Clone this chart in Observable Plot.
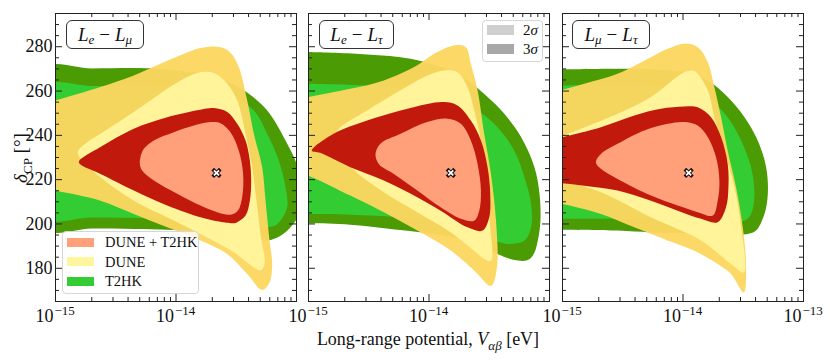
<!DOCTYPE html>
<html><head><meta charset="utf-8">
<script src="https://cdn.jsdelivr.net/npm/d3@7"></script>
<script src="https://cdn.jsdelivr.net/npm/@observablehq/plot@0.6"></script>
<style>
body{margin:0;background:#fff;}
#wrap{position:relative;width:830px;height:360px;font-family:"Liberation Serif",serif;color:#111;overflow:hidden;}
#wrap svg{position:absolute;left:0;top:0;}
.plabel{position:absolute;top:20px;height:29px;box-sizing:border-box;border:1px solid #333;border-radius:6px;background:#fff;font-size:19px;display:flex;align-items:center;justify-content:center;white-space:nowrap;}
.sb{font-size:13px;position:relative;top:5px;}
.mn{margin:0 5px;}
.legend{position:absolute;box-sizing:border-box;border:1px solid #d6d6d6;border-radius:4px;background:rgba(255,255,255,0.8);}
.sw{position:absolute;left:4px;width:27px;height:9px;}
.lt{position:absolute;font-size:14.5px;line-height:16px;white-space:nowrap;}
#xtitle{position:absolute;left:428px;top:329px;transform:translateX(-50%);font-size:18px;white-space:nowrap;}
#ytitle{position:absolute;left:21px;top:158px;transform:translate(-50%,-50%) rotate(-90deg);font-size:19px;white-space:nowrap;}
</style></head>
<body><div id="wrap"></div>
<script>
// Contours: [log10(V / eV), deltaCP in degrees]
// ---- Panel L_e - L_mu ----
const t2hk3_emu = [[-15.1,270.1],[-14.7,270.2],[-14.156,270.1],[-13.797,267.8],[-13.575,264.0],[-13.437,260.3],[-13.243,251.2],[-13.077,236.2],[-13.0,227.1],[-12.97,216.6],[-12.98,204.5],[-13.05,198.5],[-13.133,194.7],[-13.243,192.5],[-13.382,193.7],[-13.52,195.5],[-13.797,196.7],[-14.073,197.4],[-14.35,197.7],[-14.7,197.9],[-15.1,198.0]];
const t2hk2_emu = [[-15.1,262.0],[-14.7,262.3],[-14.35,262.5],[-13.797,261.0],[-13.52,256.5],[-13.354,251.2],[-13.243,240.7],[-13.147,228.6],[-13.091,216.6],[-13.077,207.5],[-13.133,201.5],[-13.2,198.8],[-13.52,200.8],[-14.073,202.3],[-14.7,202.9],[-15.1,203.0]];
const dune3_emu = [[-15.1,254.1],[-15.0,255.7],[-14.627,261.8],[-14.35,267.0],[-14.129,272.3],[-13.963,276.1],[-13.797,279.4],[-13.631,279.8],[-13.548,277.3],[-13.479,270.8],[-13.409,255.7],[-13.354,240.7],[-13.285,225.6],[-13.257,210.5],[-13.23,195.5],[-13.202,180.4],[-13.23,172.9],[-13.285,170.2],[-13.409,177.4],[-13.575,186.4],[-13.797,192.5],[-14.073,198.5],[-14.35,204.5],[-14.627,210.5],[-15.0,215.1],[-15.1,216.3]];
const dune2_emu = [[-14.815,232.4],[-14.737,236.9],[-14.627,240.7],[-14.35,250.5],[-14.073,261.0],[-13.907,266.3],[-13.797,268.5],[-13.686,268.1],[-13.575,263.3],[-13.492,255.7],[-13.423,240.7],[-13.368,225.6],[-13.332,210.5],[-13.299,195.5],[-13.265,181.9],[-13.299,179.0],[-13.354,180.4],[-13.52,187.2],[-13.797,195.5],[-14.073,203.0],[-14.35,210.5],[-14.627,221.1],[-14.779,228.6]];
const comb3_emu = [[-14.806,228.2],[-14.627,234.7],[-14.35,243.0],[-14.073,248.2],[-13.797,251.6],[-13.686,252.3],[-13.575,250.5],[-13.492,245.2],[-13.423,237.7],[-13.387,228.6],[-13.376,219.6],[-13.387,210.5],[-13.423,203.8],[-13.492,200.8],[-13.52,200.3],[-13.658,201.2],[-13.797,203.0],[-14.073,208.3],[-14.35,215.1],[-14.627,222.6],[-14.793,226.8]];
const comb2_emu = [[-14.295,230.1],[-14.267,233.9],[-14.184,237.7],[-14.018,241.4],[-13.852,244.4],[-13.714,246.0],[-13.631,245.5],[-13.548,241.4],[-13.479,233.1],[-13.443,222.6],[-13.451,212.1],[-13.487,206.0],[-13.548,204.2],[-13.658,205.3],[-13.797,208.3],[-13.99,213.6],[-14.184,219.6],[-14.281,224.1],[-14.3,227.1]];
const best_emu = [-13.664, 223.05];

// ---- Panel L_e - L_tau ----
const t2hk3_etau = [[-15.1,277.6],[-15.0,277.6],[-14.514,276.5],[-14.153,274.6],[-13.903,270.8],[-13.681,264.8],[-13.514,257.3],[-13.375,249.7],[-13.236,239.2],[-13.125,225.6],[-13.083,213.6],[-13.075,201.5],[-13.097,192.5],[-13.13,186.5],[-13.18,183.7],[-13.292,183.7],[-13.431,186.4],[-13.569,190.2],[-13.736,193.2],[-13.958,195.5],[-14.236,197.3],[-14.653,199.7],[-15.0,200.3],[-15.1,200.3]];
const t2hk2_etau = [[-15.1,263.3],[-15.0,263.3],[-14.514,262.5],[-14.097,261.0],[-13.819,257.3],[-13.597,251.2],[-13.431,243.7],[-13.292,233.1],[-13.208,221.1],[-13.153,209.0],[-13.153,198.5],[-13.208,192.5],[-13.347,191.0],[-13.458,192.5],[-13.681,197.0],[-13.958,200.8],[-14.236,203.0],[-14.653,204.2],[-15.0,204.5],[-15.1,204.5]];
const dune3_etau = [[-15.1,256.2],[-15.0,257.3],[-14.653,261.0],[-14.375,264.8],[-14.097,271.6],[-13.958,276.8],[-13.792,280.6],[-13.694,279.8],[-13.653,272.3],[-13.597,260.3],[-13.542,240.7],[-13.486,222.6],[-13.444,201.5],[-13.436,180.4],[-13.486,172.1],[-13.625,179.0],[-13.819,188.0],[-14.097,197.0],[-14.375,205.3],[-14.653,212.8],[-15.0,221.8],[-15.1,223.5]];
const dune2_etau = [[-14.75,242.9],[-14.514,251.2],[-14.236,260.3],[-14.014,267.0],[-13.875,269.3],[-13.764,268.5],[-13.681,261.8],[-13.625,251.2],[-13.569,237.7],[-13.528,221.1],[-13.5,203.0],[-13.486,183.4],[-13.542,184.2],[-13.625,187.9],[-13.819,196.2],[-14.097,205.3],[-14.375,214.3],[-14.653,226.0],[-14.792,238.5]];
const comb3_etau = [[-14.972,233.1],[-14.792,240.7],[-14.514,246.7],[-14.236,251.2],[-14.014,254.2],[-13.875,255.0],[-13.764,253.5],[-13.653,246.7],[-13.569,237.7],[-13.514,225.6],[-13.492,213.6],[-13.5,203.0],[-13.556,197.0],[-13.681,198.5],[-13.903,206.0],[-14.097,212.1],[-14.375,219.6],[-14.653,225.6],[-14.903,232.1]];
const comb2_etau = [[-14.444,231.6],[-14.403,236.2],[-14.236,240.7],[-14.014,246.0],[-13.847,247.5],[-13.736,245.2],[-13.653,237.7],[-13.597,227.1],[-13.569,215.1],[-13.583,206.0],[-13.625,201.5],[-13.736,202.3],[-13.903,207.5],[-14.097,215.1],[-14.292,222.6],[-14.417,227.1]];
const best_etau = [-13.819, 223.05];

// ---- Panel L_mu - L_tau ----
const t2hk3_mutau = [[-15.1,269.8],[-15.0,269.8],[-14.543,270.1],[-14.266,269.8],[-13.989,268.5],[-13.795,264.8],[-13.629,257.3],[-13.49,248.2],[-13.38,237.7],[-13.31,225.6],[-13.296,213.6],[-13.324,204.5],[-13.393,197.0],[-13.463,195.5],[-13.712,195.5],[-13.989,195.8],[-14.266,196.2],[-14.543,197.0],[-15.0,197.4],[-15.1,197.4]];
const t2hk2_mutau = [[-15.1,262.5],[-15.0,262.5],[-14.543,263.3],[-14.127,262.5],[-13.906,260.3],[-13.767,255.7],[-13.629,248.2],[-13.518,237.7],[-13.435,225.6],[-13.407,213.6],[-13.435,204.5],[-13.49,201.5],[-13.712,202.3],[-14.266,202.3],[-15.0,202.3],[-15.1,202.3]];
const dune3_mutau = [[-15.1,259.0],[-15.0,260.6],[-14.82,263.3],[-14.543,267.8],[-14.266,275.3],[-14.127,279.1],[-13.989,281.4],[-13.878,279.8],[-13.795,273.1],[-13.74,261.8],[-13.684,248.2],[-13.629,233.1],[-13.56,216.6],[-13.504,198.5],[-13.476,180.4],[-13.496,169.1],[-13.601,177.4],[-13.712,181.9],[-13.906,187.9],[-14.127,192.5],[-14.404,198.5],[-14.681,204.5],[-15.0,209.0],[-15.1,210.0]];
const dune2_mutau = [[-15.1,238.5],[-15.0,239.9],[-14.543,249.7],[-14.266,257.3],[-13.989,268.5],[-13.906,269.0],[-13.795,260.3],[-13.74,248.2],[-13.657,233.1],[-13.573,216.6],[-13.518,198.5],[-13.496,178.2],[-13.601,181.9],[-13.85,192.5],[-14.266,203.0],[-14.681,214.3],[-15.0,219.6],[-15.1,220.5]];
const comb3_mutau = [[-15.1,238.0],[-15.0,239.2],[-14.681,243.7],[-14.404,249.0],[-14.183,252.0],[-13.989,253.0],[-13.878,252.7],[-13.767,248.2],[-13.684,239.2],[-13.629,227.1],[-13.623,216.6],[-13.643,207.5],[-13.712,200.8],[-13.85,202.3],[-14.044,206.0],[-14.266,210.5],[-14.543,215.1],[-14.82,217.3],[-15.0,218.4],[-15.1,218.6]];
const comb2_mutau = [[-14.723,227.9],[-14.681,231.6],[-14.543,236.2],[-14.321,242.2],[-14.127,245.2],[-13.989,246.0],[-13.878,244.4],[-13.795,239.2],[-13.726,230.1],[-13.698,219.6],[-13.712,210.5],[-13.753,203.8],[-13.878,205.3],[-14.044,208.3],[-14.266,212.8],[-14.543,220.3],[-14.681,224.9]];
const best_mutau = [-13.953, 223.05];

// Axes
const xMajor = [1e-15, 1e-14, 1e-13];
const xMinor = [2e-15,3e-15,4e-15,5e-15,6e-15,7e-15,8e-15,9e-15,2e-14,3e-14,4e-14,5e-14,6e-14,7e-14,8e-14,9e-14];
const xLabelsInner = [1e-15, 1e-14];
const xLabelsLast = [1e-15, 1e-14, 1e-13];
const yMajor = [180, 200, 220, 240, 260, 280];
const yMinor = [165,170,175,185,190,195,205,210,215,225,230,235,245,250,255,265,270,275,285,290,295];
const xDomain = [1e-15, 1e-13];
const yDomain = [165, 295];

const panelNames = ["L_e − L_μ", "L_e − L_τ", "L_μ − L_τ"];
const legendLabels = ["DUNE + T2HK", "DUNE", "T2HK"];
const sigmaLabels = ["2σ", "3σ"];

const regionColors = ["#4b9b04", "#33cc33", "#fcd660", "#fff59c", "#c1190b", "#ffa07a"];
const regionOpacity = [1, 1, 0.96, 0.97, 1, 1];

const panels = [
  {left: 55, regions: [t2hk3_emu, t2hk2_emu, dune3_emu, dune2_emu, comb3_emu, comb2_emu], best: best_emu, labels: xLabelsInner, yLabels: true},
  {left: 308, regions: [t2hk3_etau, t2hk2_etau, dune3_etau, dune2_etau, comb3_etau, comb2_etau], best: best_etau, labels: xLabelsInner, yLabels: false},
  {left: 562, regions: [t2hk3_mutau, t2hk2_mutau, dune3_mutau, dune2_mutau, comb3_mutau, comb2_mutau], best: best_mutau, labels: xLabelsLast, yLabels: false}
];

const W = 830, H = 330, FW = 241, MT = 13, MB = 29;
const FH = H - MT - MB;
const toRows = arr => arr.map(([lv, d]) => ({V: 10 ** lv, d}));
const fmtExp = v => "−" + String(Math.round(-Math.log10(v)));
const ink = "#222";
const wrap = document.getElementById("wrap");

for (const p of panels) {
  const marks = [];
  p.regions.forEach((r, i) => {
    marks.push(Plot.line(toRows(r), {x: "V", y: "d", fill: regionColors[i], fillOpacity: regionOpacity[i], stroke: "none", curve: "catmull-rom-closed", clip: true}));
  });
  const bf = toRows([p.best]);
  marks.push(Plot.dot(bf, {x: "V", y: "d", symbol: "times", r: 2.4, stroke: "#111", strokeWidth: 3.6, strokeLinecap: "square"}));
  marks.push(Plot.dot(bf, {x: "V", y: "d", symbol: "times", r: 2.4, stroke: "#fff", strokeWidth: 1.8}));
  // inward ticks on all sides
  marks.push(Plot.tickY(yMajor, {y: d => d, insetRight: FW - 7, stroke: ink}));
  marks.push(Plot.tickY(yMajor, {y: d => d, insetLeft: FW - 7, stroke: ink}));
  marks.push(Plot.tickY(yMinor, {y: d => d, insetRight: FW - 4, stroke: ink}));
  marks.push(Plot.tickY(yMinor, {y: d => d, insetLeft: FW - 4, stroke: ink}));
  marks.push(Plot.tickX(xMajor, {x: d => d, insetTop: FH - 7, stroke: ink}));
  marks.push(Plot.tickX(xMajor, {x: d => d, insetBottom: FH - 7, stroke: ink}));
  marks.push(Plot.tickX(xMinor, {x: d => d, insetTop: FH - 4, stroke: ink}));
  marks.push(Plot.tickX(xMinor, {x: d => d, insetBottom: FH - 4, stroke: ink}));
  marks.push(Plot.frame({stroke: ink, strokeWidth: 1}));
  // x tick labels 10^n
  marks.push(Plot.text(p.labels, {x: d => d, text: () => "10", frameAnchor: "bottom", lineAnchor: "bottom", textAnchor: "end", dx: -2, dy: 20, fontSize: 18, fill: "#111"}));
  marks.push(Plot.text(p.labels, {x: d => d, text: fmtExp, frameAnchor: "bottom", lineAnchor: "bottom", textAnchor: "start", dx: -1, dy: 13, fontSize: 13, fill: "#111"}));
  if (p.yLabels) {
    marks.push(Plot.text(yMajor, {y: d => d, text: d => String(d), frameAnchor: "left", textAnchor: "end", dx: -3, fontSize: 18, fill: "#111"}));
  }
  const svg = Plot.plot({
    width: W, height: H,
    marginLeft: p.left, marginRight: W - p.left - FW, marginTop: MT, marginBottom: MB,
    style: {background: "transparent", overflow: "visible", fontFamily: "Liberation Serif, serif"},
    x: {type: "log", domain: xDomain, axis: null},
    y: {domain: yDomain, axis: null},
    marks
  });
  wrap.appendChild(svg);
}

// panel name boxes
const nameHTML = s => {
  const [a, b] = s.split(" − ");
  const part = t => { const [L, sub] = t.split("_"); return `<i>${L}</i><span class="sb"><i>${sub}</i></span>`; };
  return part(a) + `<span class="mn">−</span>` + part(b);
};
const nameBoxes = [{left: 66, width: 78}, {left: 319, width: 75}, {left: 572, width: 78}];
panelNames.forEach((n, i) => {
  const d = document.createElement("div");
  d.className = "plabel";
  d.style.left = nameBoxes[i].left + "px";
  d.style.width = nameBoxes[i].width + "px";
  d.innerHTML = nameHTML(n);
  wrap.appendChild(d);
});

// experiment legend
const leg = document.createElement("div");
leg.className = "legend";
Object.assign(leg.style, {left: "62px", top: "231px", width: "137px", height: "63px"});
const legColors = [regionColors[5], regionColors[3], regionColors[1]];
legendLabels.forEach((t, i) => {
  const sw = document.createElement("div");
  sw.className = "sw";
  Object.assign(sw.style, {top: (5.5 + i * 19.5) + "px", background: legColors[i]});
  leg.appendChild(sw);
  const tx = document.createElement("div");
  tx.className = "lt";
  Object.assign(tx.style, {left: "42px", top: (2 + i * 19.5) + "px"});
  tx.textContent = t;
  leg.appendChild(tx);
});
wrap.appendChild(leg);

// sigma legend
const sleg = document.createElement("div");
sleg.className = "legend";
Object.assign(sleg.style, {left: "482px", top: "20px", width: "61px", height: "42px"});
const sigColors = ["#cfcfcf", "#a8a8a8"];
sigmaLabels.forEach((t, i) => {
  const sw = document.createElement("div");
  sw.className = "sw";
  Object.assign(sw.style, {top: (3.5 + i * 19.5) + "px", height: "10px", background: sigColors[i]});
  sleg.appendChild(sw);
  const tx = document.createElement("div");
  tx.className = "lt";
  Object.assign(tx.style, {left: "40px", top: (0.5 + i * 19.5) + "px", fontSize: "15px"});
  tx.innerHTML = t.replace("σ", "<i>σ</i>");
  sleg.appendChild(tx);
});
wrap.appendChild(sleg);

// axis titles
const xt = document.createElement("div");
xt.id = "xtitle";
xt.innerHTML = `Long-range potential, <i>V</i><span class="sb"><i>αβ</i></span> [eV]`;
wrap.appendChild(xt);
const yt = document.createElement("div");
yt.id = "ytitle";
yt.innerHTML = `<i>δ</i><span class="sb">CP</span> [°]`;
wrap.appendChild(yt);
</script>
</body></html>
